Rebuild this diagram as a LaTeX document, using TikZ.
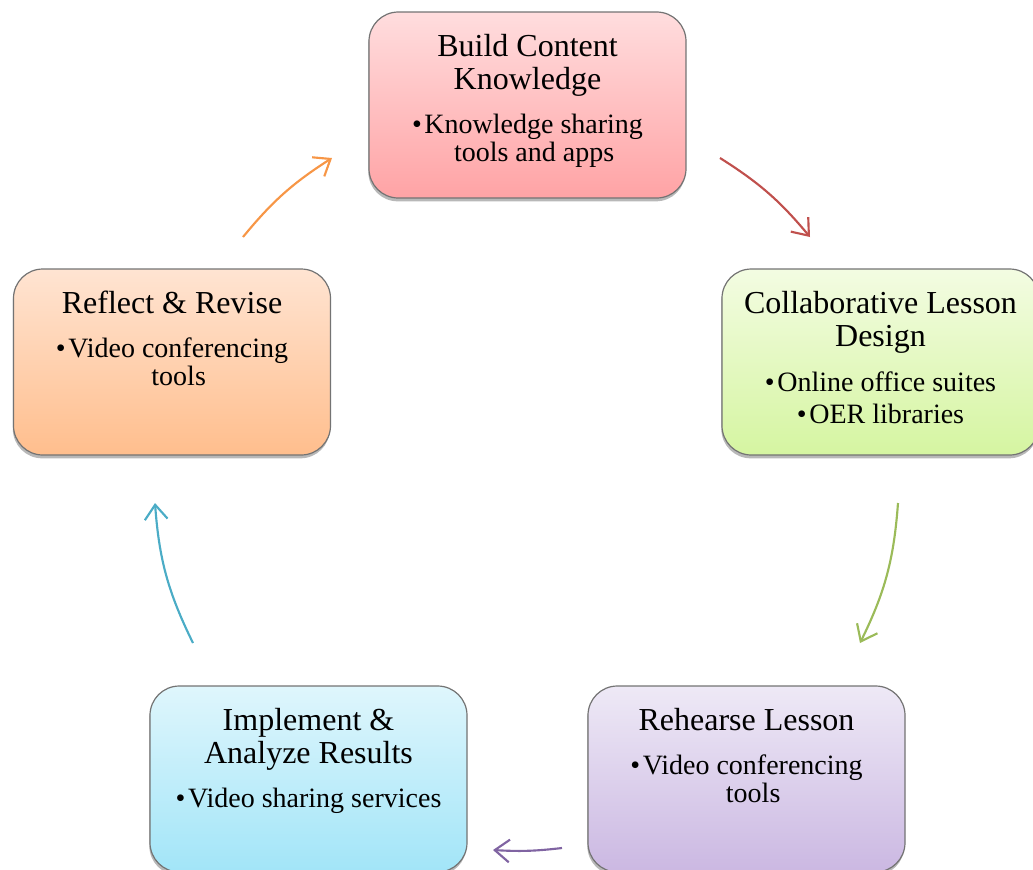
\documentclass[tikz,border=0pt]{standalone}
\usepackage{fontspec}
\setmainfont{Liberation Serif}
\usetikzlibrary{positioning, shadows}
\usetikzlibrary{arrows.meta}

\definecolor{pinkT}{HTML}{FFDDDE}
\definecolor{pinkB}{HTML}{FFA3A5}
\definecolor{greenT}{HTML}{F3FCE2}
\definecolor{greenB}{HTML}{D5F5A1}
\definecolor{purpleT}{HTML}{EEE9F6}
\definecolor{purpleB}{HTML}{CBB8E2}
\definecolor{blueT}{HTML}{DFF6FC}
\definecolor{blueB}{HTML}{A2E5F8}
\definecolor{orangeT}{HTML}{FFE4D2}
\definecolor{orangeB}{HTML}{FFBE8D}
\definecolor{arrRed}{HTML}{C0504D}
\definecolor{arrGreen}{HTML}{9BBB59}
\definecolor{arrPurple}{HTML}{8064A2}
\definecolor{arrBlue}{HTML}{4BACC6}
\definecolor{arrOrange}{HTML}{F79646}

\begin{document}
\begin{tikzpicture}[x=0.75pt, y=-0.75pt]
					\tikzstyle{stage}=[draw=black!55, line width=0.9pt, rounded corners=22pt, minimum width=237.75pt, minimum height=139.5pt, drop shadow={shadow xshift=-0.5pt, shadow yshift=-2.5pt, fill=black, opacity=0.28}]
					\tikzstyle{headtext}=[inner sep=0pt, align=center, font=\fontsize{24}{24.75}\selectfont]
					\tikzstyle{tooltext}=[inner sep=0pt, align=center, font=\fontsize{21}{21}\selectfont]
					\tikzstyle{loopedge}=[line width=1.6pt, -{Straight Barb[length=11pt, width=17pt]}]
					\useasboundingbox (0,0) rectangle (1033,869);
					\clip (0,0) rectangle (1033,869);
					\node (bck) [stage, top color=pinkT, bottom color=pinkB] at (527.5,105) {};
					\node (bck-t) [headtext, below=17pt of bck.north] {Build Content\\Knowledge};
					\node (bck-b) [tooltext, below=77pt of bck.north] {\textbullet\hspace{2pt}Knowledge sharing\\\hspace*{10pt}tools and apps};
					\node (cld) [stage, top color=greenT, bottom color=greenB] at (880.5,362) {};
					\node (cld-t) [headtext, below=17pt of cld.north] {Collaborative Lesson\\Design};
					\node (cld-b) [tooltext, below=77pt of cld.north] {\textbullet\hspace{2pt}Online office suites\\[3pt]\textbullet\hspace{2pt}OER libraries};
					\node (rl) [stage, top color=purpleT, bottom color=purpleB] at (746.5,779) {};
					\node (rl-t) [headtext, below=17pt of rl.north] {Rehearse Lesson};
					\node (rl-b) [tooltext, below=52pt of rl.north] {\textbullet\hspace{2pt}Video conferencing\\\hspace*{10pt}tools};
					\node (iar) [stage, top color=blueT, bottom color=blueB] at (308.5,779) {};
					\node (iar-t) [headtext, below=17pt of iar.north] {Implement \&\\Analyze Results};
					\node (iar-b) [tooltext, below=77pt of iar.north] {\textbullet\hspace{2pt}Video sharing services};
					\node (rr) [stage, top color=orangeT, bottom color=orangeB] at (172,362) {};
					\node (rr-t) [headtext, below=17pt of rr.north] {Reflect \& Revise};
					\node (rr-b) [tooltext, below=52pt of rr.north] {\textbullet\hspace{2pt}Video conferencing\\\hspace*{10pt}tools};
					\coordinate (e1s) at (720,158); \coordinate (e1e) at (810,237);
					\coordinate (e2s) at (898,503); \coordinate (e2e) at (860,643);
					\coordinate (e3s) at (562,848); \coordinate (e3e) at (493,850);
					\coordinate (e4s) at (193,643); \coordinate (e4e) at (155,503);
					\coordinate (e5s) at (243,237); \coordinate (e5e) at (332,158);
					\draw[loopedge, arrRed] (e1s) to[bend left=9] (e1e);
					\draw[loopedge, arrGreen] (e2s) to[bend left=11] (e2e);
					\draw[loopedge, arrPurple] (e3s) to[bend left=5] (e3e);
					\draw[loopedge, arrBlue] (e4s) to[bend left=11] (e4e);
					\draw[loopedge, arrOrange] (e5s) to[bend left=9] (e5e);
				\end{tikzpicture}
\end{document}
